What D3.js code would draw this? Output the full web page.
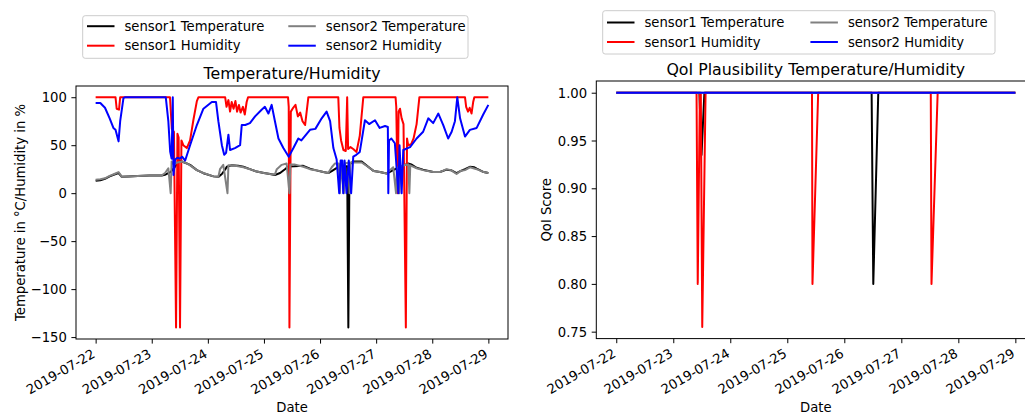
<!DOCTYPE html>
<html><head><meta charset="utf-8">
<script src="https://cdn.jsdelivr.net/npm/d3@7"></script>
<style>
html,body{margin:0;padding:0;background:#fff;}
svg{display:block;font-family:"DejaVu Sans",sans-serif;}
</style></head>
<body><svg id="chart" width="1025" height="414"></svg>
<script>
// ---------- DATA (hours after 2019-07-22 00:00, value) ----------
const startDate = "2019-07-22T00:00:00Z";
const dateTicks = ["2019-07-22","2019-07-23","2019-07-24","2019-07-25","2019-07-26","2019-07-27","2019-07-28","2019-07-29"];
const leftYTicks = [-150,-100,-50,0,50,100];
const rightYTicks = [0.75,0.80,0.85,0.90,0.95,1.00];
const seriesNames = ["sensor1 Temperature","sensor1 Humidity","sensor2 Temperature","sensor2 Humidity"];
const seriesColors = ["#000000","#ff0000","#808080","#0000ff"];

const s1Temperature = [[0,13],[2,13.5],[4,15],[6,17.5],[8,19.5],[9.8,21],[11.2,17],[14,17.5],[18,18],[23,18.5],[28.3,18.5],[30,19.5],[32,22],[33.5,26],[35,31],[36.1,33.5],[38,32],[40.4,29.5],[43.3,24],[46.1,20.8],[50.4,17.5],[52.5,17],[54,20],[55.5,25],[56.1,27.5],[58,29],[61,28.5],[63.2,27.5],[66,25],[68.9,22.5],[72,21],[74.6,20],[76.7,19],[78.9,21],[81,25],[82.4,27.8],[85,28],[88.8,28.5],[91.7,25.5],[94,24],[97.4,22],[99.5,21],[101,23],[103,26],[105,28],[107.6,28],[108.1,-140],[108.6,30],[110.2,33],[113.8,33],[117.4,26],[119,23],[121.6,22],[124.5,20.5],[127.3,24],[129,26],[131,28],[133.7,31],[135,30],[137.3,26.5],[140,24.5],[144.4,22],[147.3,22],[150.1,24.5],[152,24],[154.4,21],[156,23],[158,25],[160.1,27.5],[162,27],[163,25.5],[166,22],[168,21]];

const s1Humidity = [[0,100],[8.5,100],[9,88],[10,87],[10.5,100],[31.8,100],[32.6,67],[33.5,64],[34.4,-140],[35,62],[35.5,58],[36.1,-140],[36.7,55],[37.5,50],[39,47],[40.4,55],[41.8,76],[43.3,96],[44,100],[55.4,100],[56,90],[56.8,97],[57.5,85],[58.2,95],[59,88],[59.8,96],[60.5,85],[61.3,92],[62,84],[63,90],[63.8,82],[64.6,95],[65.2,100],[82.3,100],[82.6,90],[82.9,-140],[83.5,85],[84.5,89],[85.5,92],[86.5,80],[87.5,84],[88.5,75],[89.6,71],[91,100],[103.8,100],[104.3,68],[105,55],[106,45],[107,44],[107.6,100],[108,46],[109,48],[110.2,46],[111.6,43],[113,60],[114.5,100],[128.3,100],[128.6,90],[129.2,0],[129.6,85],[130.2,88],[130.9,78],[131.7,72],[132.7,-140],[133.2,57],[133.7,50],[135,51],[136,57],[137.3,72],[138.5,100],[158,100],[158.5,90],[159.3,85],[160,89],[160.8,83],[161.5,95],[162,100],[168,100]];

const s2Temperature = [[0,14],[2,14.5],[4,15.5],[6,18],[8,20],[9.8,22],[11.2,17],[14,17.5],[18,18],[23,18.5],[28.3,18.5],[29.7,21],[31.1,26],[32.1,0],[32.5,33],[33.5,30],[35,32],[37,33],[39,31],[40.4,29],[43.3,24],[46.1,21],[50.4,17.5],[52.5,17],[53.2,25],[54.6,29.5],[56.4,0],[56.8,29],[58,29],[61,28],[63.2,27],[66,25],[68.9,22.5],[72,21],[74.6,20],[76.7,19.5],[77.5,25],[79.6,29.5],[81.7,31],[82.9,0],[83.3,30],[85,30],[88.8,27.5],[91.7,25],[94,24],[97.4,22],[99.5,21],[101,27],[102.4,31],[104,31],[104.5,0],[104.9,31],[106.2,0],[106.6,31],[108.3,32],[108.6,0],[109,32],[111,32],[113.8,32],[117.4,26],[119,23],[121.6,22],[124.5,20.5],[125.5,23],[127.3,27],[128.5,0],[128.9,27],[129.9,0],[130.3,28],[132,29],[133.8,30],[134.2,0],[134.6,29],[137.3,26],[140,24],[144.4,22],[147.3,22],[150.1,25],[152,24],[154.4,20],[156,23],[158,24],[160.1,27],[163,25],[166,22],[168,21]];

const s2Humidity = [[0,94],[2,94],[4,89],[6,78],[7.6,68],[8.5,66],[9.8,54],[10.5,75],[11.9,99],[12.5,100],[30,100],[31.1,75],[31.9,43],[32.5,36],[33,100],[33.3,19],[34,35],[35,37],[36,36],[37,38],[38.3,34],[40.4,50],[43.3,71],[46.1,88],[49.7,95],[51.5,95],[52.5,75],[54,50],[55,40],[55.8,42],[56.8,61],[57.5,45],[59.6,47],[61.8,50],[62.5,71],[64,71],[66,73],[68.2,80],[71,87],[72.4,90],[73.9,83],[75.3,92],[76.7,75],[78.2,57],[80.3,47],[82.6,38],[84.6,47],[86.7,57],[88,55],[91.7,66],[94,67],[96.7,78],[98.8,85],[100.3,75],[101.7,47],[103.1,35],[104.2,0],[104.8,34],[105.5,34],[105.9,0],[106.5,34],[107.3,0],[108.3,34],[109.3,0],[110.2,38],[111.5,40],[113,43],[115.2,76],[117,72],[119.5,76],[121.5,68],[123.8,70],[125,69],[125.2,0],[125.5,55],[126.5,57],[128,52],[129.5,0],[130,50],[130.9,0],[131.6,45],[134.5,48],[137.3,57],[140.1,64],[142.3,78],[144.4,73],[146.6,83],[148.7,71],[150.8,57],[152.3,64],[153.7,75],[154.7,100],[155.9,78],[158,59],[160.1,66],[163,68],[165.8,82],[168,92]];

const qoiS1Temperature = [[0,1],[35.0,1],[35.9,0.935],[37.1,1],[107.5,1],[108.2,0.8],[110.3,1],[168,1]];
const qoiS1Humidity = [[0,1],[33.8,1],[34.3,0.8],[35.2,1],[35.6,1],[36.2,0.755],[37.6,1],[82.4,1],[82.6,0.8],[85,1],[132.4,1],[132.7,0.8],[135.3,1],[168,1]];
const qoiS2Temperature = [[0,1],[168,1]];
const qoiS2Humidity = [[0,1],[168,1]];

// ---------- CHART ----------
const svg = d3.select("#chart");
const t0 = Date.parse(startDate);
const HR = 3600*1000;
const toDate = h => new Date(t0 + h*HR);
const parseDay = s => new Date(Date.parse(s + "T00:00:00Z"));
const minus = s => s.replace("-", "\u2212");

const FS = 13.2;
const TK = 4.6;
function panel(cfg){
  const g = svg.append("g");
  const x = d3.scaleUtc().domain([toDate(-8.4), toDate(176.4)]).range([cfg.x0, cfg.x1]);
  const y = d3.scaleLinear().domain(cfg.ydom).range([cfg.y1, cfg.y0]);
  const clipId = "clip" + cfg.id;
  svg.append("clipPath").attr("id", clipId).append("rect")
    .attr("x", cfg.x0).attr("y", cfg.y0).attr("width", cfg.x1-cfg.x0).attr("height", cfg.y1-cfg.y0);
  const line = d3.line().x(d => x(toDate(d[0]))).y(d => y(d[1]));
  const lines = g.append("g").attr("clip-path", `url(#${clipId})`);
  cfg.series.forEach((s,i) => {
    lines.append("path").datum(s).attr("d", line).attr("fill","none")
      .attr("stroke", cfg.colors[i]).attr("stroke-width",2).attr("stroke-linejoin","round").attr("stroke-linecap","butt");
  });
  // x axis
  const xa = g.append("g").attr("transform",`translate(0,${cfg.y1})`)
    .call(d3.axisBottom(x).tickValues(dateTicks.map(parseDay)).tickSize(TK).tickFormat((d,i)=>dateTicks[i]));
  xa.select(".domain").remove();
  xa.selectAll("line").attr("stroke","#000").attr("stroke-width",1);
  xa.selectAll("text").attr("x",0).attr("y",0).attr("dy",null)
    .attr("transform","translate(0,17.5) rotate(-30)").attr("text-anchor","end")
    .attr("font-size",FS).attr("font-family","DejaVu Sans").attr("fill","#000");
  // y axis
  const ya = g.append("g").attr("transform",`translate(${cfg.x0},0)`)
    .call(d3.axisLeft(y).tickValues(cfg.yticks).tickSize(TK).tickPadding(TK).tickFormat(cfg.yfmt));
  ya.select(".domain").remove();
  ya.selectAll("line").attr("stroke","#000").attr("stroke-width",1);
  ya.selectAll("text").attr("font-size",FS).attr("font-family","DejaVu Sans").attr("fill","#000").attr("dy","0.35em");
  // frame
  g.append("rect").attr("x",cfg.x0).attr("y",cfg.y0).attr("width",cfg.x1-cfg.x0).attr("height",cfg.y1-cfg.y0)
    .attr("fill","none").attr("stroke","#000").attr("stroke-width",1);
  // title
  g.append("text").attr("x",(cfg.x0+cfg.x1)/2).attr("y",cfg.ty).attr("text-anchor","middle")
    .attr("font-size",15.8).text(cfg.title);
  // labels
  g.append("text").attr("x",(cfg.x0+cfg.x1)/2).attr("y",411.5).attr("text-anchor","middle").attr("font-size",FS).text("Date");
  g.append("text").attr("transform",`translate(${cfg.ylx},${(cfg.y0+cfg.y1)/2}) rotate(-90)`).attr("dy","0.35em")
    .attr("text-anchor","middle").attr("font-size",FS).text(cfg.ylabel);
  // legend
  const lg = g.append("g");
  lg.append("rect").attr("x",cfg.lx).attr("y",cfg.ly).attr("width",cfg.lw).attr("height",cfg.lh).attr("rx",2.5)
    .attr("fill","#fff").attr("fill-opacity",0.8).attr("stroke","#cccccc").attr("stroke-width",1);
  seriesNames.forEach((n,i) => {
    const col = Math.floor(i/2), row = i%2;
    const lx = cfg.lx + 4.3 + col*cfg.colw, ly = cfg.ly + cfg.lrow + row*19.5;
    lg.append("line").attr("x1",lx).attr("x2",lx+27.5).attr("y1",ly).attr("y2",ly)
      .attr("stroke",cfg.colors[i]).attr("stroke-width",2);
    lg.append("text").attr("x",lx+37.5).attr("y",ly).attr("dy","0.35em").attr("font-size",FS).text(n);
  });
}

panel({id:"L", x0:76, x1:508, y0:86, y1:339, ydom:[-152,111.7], yticks:leftYTicks, yfmt:d=>minus(String(d)),
  title:"Temperature/Humidity", ty:78.5, ylabel:"Temperature in \u00B0C/Humidity in %", ylx:20,
  series:[s1Temperature,s1Humidity,s2Temperature,s2Humidity], colors:seriesColors,
  lx:82.7, ly:15.7, lw:385.3, lh:42.6, colw:201.3, lrow:10.5});
panel({id:"R", x0:596.3, x1:1035.3, y0:81, y1:338.6, ydom:[0.74275,1.01225], yticks:rightYTicks, yfmt:d3.format(".2f"),
  title:"QoI Plausibility Temperature/Humidity", ty:74.5, ylabel:"QoI Score", ylx:546,
  series:[qoiS1Temperature,qoiS1Humidity,qoiS2Temperature,qoiS2Humidity], colors:seriesColors,
  lx:602.7, ly:10.7, lw:392.3, lh:43.3, colw:203.4, lrow:11.8});
</script></body></html>
